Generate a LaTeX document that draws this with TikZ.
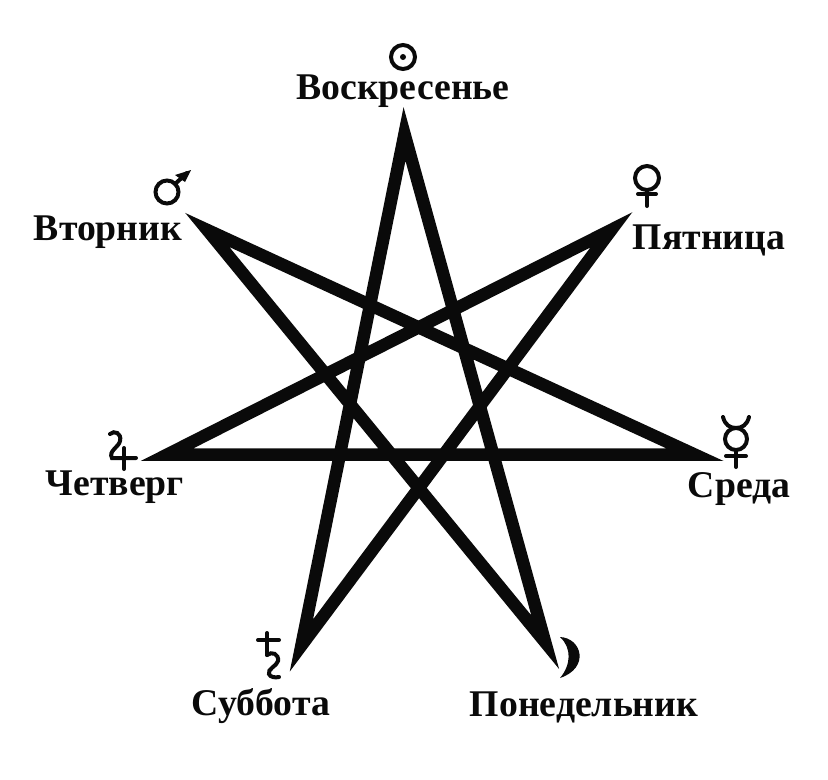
\documentclass[tikz,border=0pt]{standalone}
\usepackage{fontspec}
\setmainfont{Liberation Serif}
\definecolor{StarInk}{HTML}{0A0A0A}
\tikzset{
  every node/.style={text=StarInk, inner sep=0pt},
  star/.style={draw=StarInk, line width=0.375cm, line join=miter, miter limit=10},
  day/.style={anchor=base, font=\fontsize{32.2}{32.2}\selectfont\bfseries},
  sign/.style={draw=StarInk, line width=0.12cm, line cap=round},
  signfill/.style={fill=StarInk},
}
\begin{document}
\begin{tikzpicture}[x=0.03cm, y=-0.03cm]
  \useasboundingbox (0,0) rectangle (828,780);
  % Points of the star
  \coordinate (sun) at (404.5,134);
  \coordinate (mon) at (545.2,642.2);
  \coordinate (tue) at (207.3,230);
  \coordinate (wed) at (695,454.7);
  \coordinate (thu) at (167,454.7);
  \coordinate (fri) at (611.4,229.8);
  \coordinate (sat) at (301.4,645.5);
  % Seven-pointed star
  \draw[star] (sun) -- (sat) -- (fri) -- (thu) -- (wed) -- (tue) -- (mon) -- cycle;
  % Day names
  \node[day] (sunday) at (403,99) {Воскресенье};
  \node[day] (tuesday) at (108,240) {Вторник};
  \node[day] (friday) at (709,249) {Пятница};
  \node[day] (thursday) at (115,495) {Четверг};
  \node[day] (wednesday) at (739,497) {Среда};
  \node[day] (saturday) at (261,715) {Суббота};
  \node[day] (monday) at (584,716) {Понедельник};
  % Sun
  \draw[sign] (403,57) circle [radius=12*0.03cm];
  \fill[signfill] (403,57) circle [radius=3*0.03cm];
  % Mars
  \draw[sign] (167,192) circle [radius=11.5*0.03cm];
  \draw[sign] (175,184) -- (187,173);
  \fill[signfill] (191,170) -- (175,175) -- (185,182) -- cycle;
  % Venus
  \draw[sign] (647,178) circle [radius=12*0.03cm];
  \draw[sign] (647,190) -- (647,206);
  \draw[sign] (638,194) -- (656,194);
  % Mercury
  \draw[sign] (736,439) circle [radius=11*0.03cm];
  \draw[sign] (723,417) .. controls (725,425) and (730,428) .. (736,428)
    .. controls (742,428) and (747,425) .. (749,417);
  \draw[sign] (736,450) -- (736,467);
  \draw[sign] (726,456) -- (746,456);
  % Jupiter
  \draw[sign] (110,434) .. controls (114,430) and (122,433) .. (120,441)
    .. controls (119,447) and (108,451) .. (112,458) -- (136,458);
  \draw[sign] (124,448) -- (124,469);
  % Saturn
  \draw[sign] (258,640) -- (279,640);
  \draw[sign] (267,633) -- (267,655);
  \draw[sign] (267,655) .. controls (272,651) and (279,654) .. (278,661)
    .. controls (277,666) and (267,669) .. (269,674)
    .. controls (270,677) and (275,678) .. (279,677);
  % Moon
  \fill[signfill] (560,637) .. controls (582,638) and (590,668) .. (560,678)
    .. controls (571,665) and (572,648) .. (560,637) -- cycle;
\end{tikzpicture}
\end{document}
